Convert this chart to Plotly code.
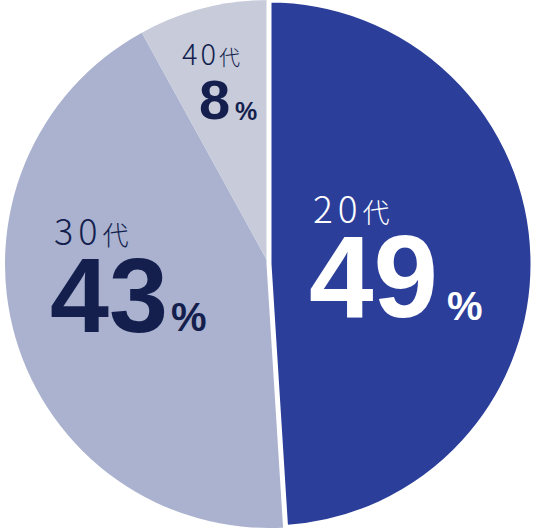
import plotly.graph_objects as go

W, H = 544, 530

categories = ["20代", "30代", "40代"]
values = [49, 43, 8]
colors = ["#2b3e9a", "#aab2cf", "#c7cbda"]
text_colors = ["#ffffff", "#141f4e", "#141f4e"]

# draw order: 30代, 40代, then 20代 last so its white edge sits on top
order = [1, 2, 0]

fig = go.Figure()
fig.add_trace(go.Pie(
    labels=[categories[i] for i in order],
    values=[values[i] for i in order],
    marker=dict(colors=[colors[i] for i in order],
                line=dict(color="white", width=[0, 0, 5])),
    sort=False,
    direction="clockwise",
    rotation=values[0] / sum(values) * 360,
    textinfo="none",
    hoverinfo="skip",
    showlegend=False,
    domain=dict(x=[5 / W, 533 / W], y=[2 / H, 1.0]),
))

# label layout (pixel centres): (age x, age y, age size, dai size, spacing,
#                                num x, num y, num size, pct x, pct y, pct size)
label_pos = [
    (351, 207, 37, 27, 5, 373, 277, 116, 465, 306, 40),
    (91, 229, 36, 26, 5, 109, 295, 106, 189, 317, 40),
    (211, 52, 29, 21, 3, 214, 100, 56, 246, 111, 25),
]

def px(x, y):
    return x / W, 1 - y / H

anns = []
for i, cat in enumerate(categories):
    ax, ay, asz, dsz, sp, nx, ny, nsz, qx, qy, qsz = label_pos[i]
    c = text_colors[i]
    age_txt = (f"<span style='letter-spacing:{sp}px'>{cat[:-1]}</span>"
               f"<span style='font-size:{dsz}px'>{cat[-1]}</span>")
    for txt, x, y, sz, fam, wt in [
        (age_txt, ax, ay, asz, "Noto Sans CJK JP", 300),
        (str(values[i]), nx, ny, nsz, "Liberation Sans", "bold"),
        ("%", qx, qy, qsz, "Liberation Sans", "bold"),
    ]:
        X, Y = px(x, y)
        anns.append(dict(
            x=X, y=Y, xref="paper", yref="paper", text=txt, showarrow=False,
            xanchor="center", yanchor="middle",
            font=dict(family=fam, size=sz, color=c, weight=wt),
        ))

fig.update_layout(
    width=W, height=H,
    margin=dict(l=0, r=0, t=0, b=0),
    paper_bgcolor="white",
    plot_bgcolor="white",
    annotations=anns,
)

fig.write_html("out.html", config={"displayModeBar": False},
               post_script="document.body.style.margin='0';document.body.style.overflow='hidden';")
